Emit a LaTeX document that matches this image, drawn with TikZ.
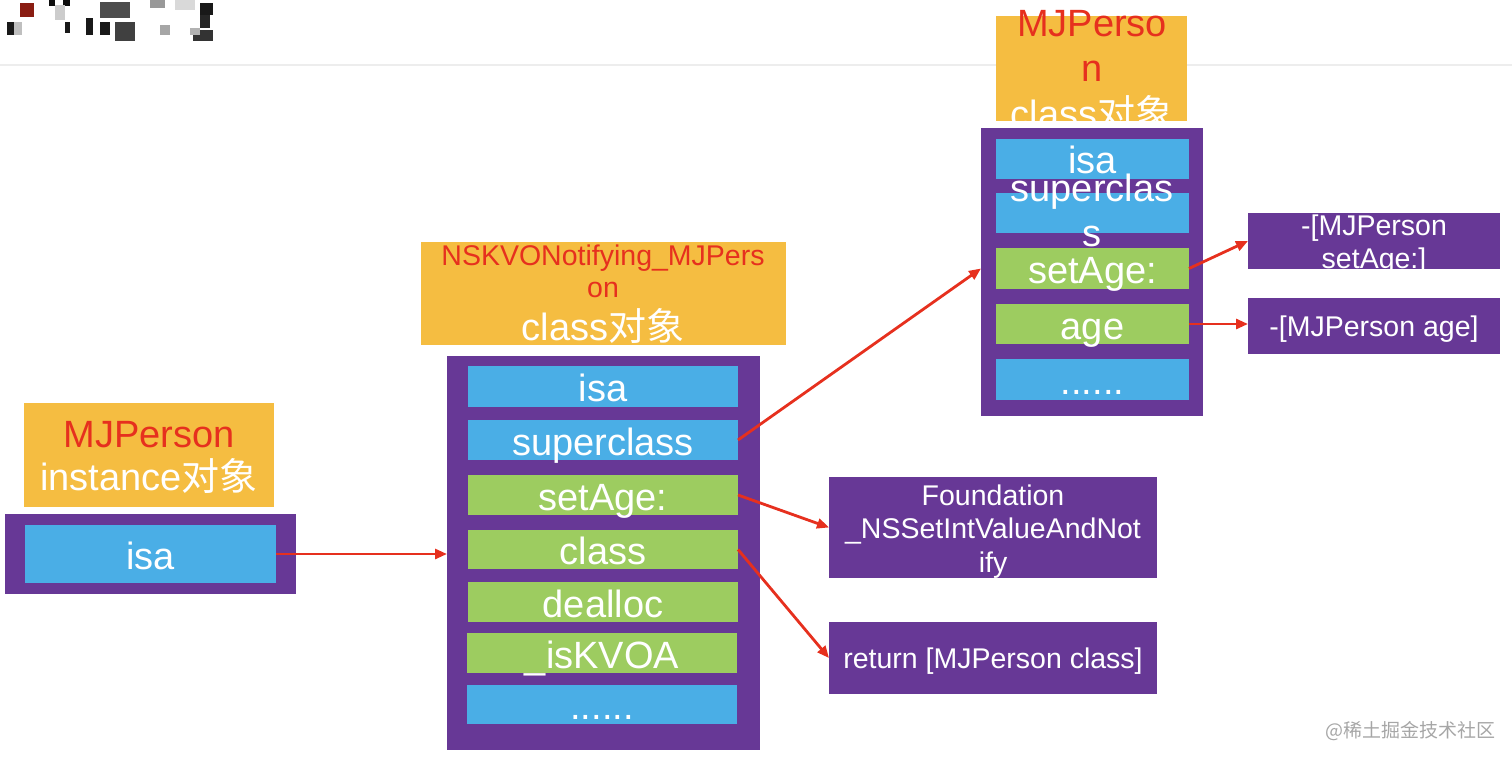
\documentclass[tikz,border=0pt]{standalone}
\usepackage{fontspec}
\setmainfont{Liberation Sans}
\newfontfamily\cjk{Noto Sans CJK SC}
\usepackage{tikz}
\usetikzlibrary{arrows.meta}
\definecolor{R}{RGB}{230, 48, 30}
\definecolor{B}{RGB}{74, 174, 230}
\definecolor{G}{RGB}{157, 204, 96}
\definecolor{O}{RGB}{245, 189, 65}
\definecolor{P}{RGB}{103, 56, 150}
\newcommand{\bigf}{\fontsize{38}{44}\selectfont}
\newcommand{\smallf}{\fontsize{28.5}{34}\selectfont}

\tikzset{
  box/.style={anchor=north west, inner sep=0pt, outer sep=0pt},
  head/.style={box, fill=O},
  frame/.style={box, fill=P},
  slot/.style={box, text=white, font=\bigf, text height=30pt, text depth=0pt},
  bslot/.style={slot, fill=B},
  gslot/.style={slot, fill=G},
  meth/.style={box, fill=P, text=white, font=\smallf, text height=20.5pt, text depth=0pt},
  txt/.style={anchor=base, inner sep=0pt, text=white},
  ptr/.style={color=R, line width=2.8pt, -{Triangle[length=12pt,width=10pt]}}
}

\begin{document}
\begin{tikzpicture}[x=1pt, y=-1pt]
  \useasboundingbox (0,0) rectangle (1512,762);
  % blurred logo and page rule
  \foreach \x/\y/\w/\h/\c in {20/3/14/14/80, 7/22/7/13/90, 14/22/8/13/25, 49/0/6/6/95,
      63/0/7/6/95, 55/5/10/15/20, 65/22/5/11/90, 86/18/7/17/90, 100/2/30/16/70,
      115/22/20/19/75, 100/22/10/13/90, 150/0/15/8/40, 160/25/10/10/35,
      200/3/13/12/90, 200/15/10/13/85, 193/30/20/11/80, 175/0/20/10/15, 190/28/10/7/30}
    \fill[black!\c] (\x,\y) rectangle ++(\w,\h);
  \fill[R!60!black] (20,3) rectangle ++(14,14);
  \draw[black!7, line width=1.5pt] (0,65) -- (1512,65);

  % MJPerson instance
  \node[head, minimum width=250pt, minimum height=104pt] (lhead) at (24,403) {};
  \node[txt, text=R, font=\bigf] (lname) at (149,447) {MJPerson};
  \node[txt, font=\bigf] (lkind) at (149,490) {instance{\cjk 对象}};
  \node[frame, minimum width=291pt, minimum height=80pt] (lobj) at (5,514) {};
  \node[bslot, minimum width=251pt, minimum height=58pt] (lisa) at (25,525) {isa};

  % NSKVONotifying_MJPerson class
  \node[head, minimum width=365pt, minimum height=103pt] (mhead) at (421,242) {};
  \node[txt, text=R, font=\smallf] (mname) at (603,265) {NSKVONotifying\_MJPers};
  \node[txt, text=R, font=\smallf] (mname2) at (603,297) {on};
  \node[txt, font=\bigf] (mkind) at (603,340) {class{\cjk 对象}};
  \node[frame, minimum width=313pt, minimum height=394pt] (mobj) at (447,356) {};
  \node[bslot, minimum width=270pt, minimum height=41pt] (misa) at (468,366) {isa};
  \node[bslot, minimum width=270pt, minimum height=40pt] (msup) at (468,420) {superclass};
  \node[gslot, minimum width=270pt, minimum height=40pt] (mset) at (468,475) {setAge:};
  \node[gslot, minimum width=270pt, minimum height=39pt] (mcls) at (468,530) {class};
  \node[gslot, minimum width=270pt, minimum height=40pt] (mdea) at (468,582) {dealloc};
  \node[gslot, minimum width=270pt, minimum height=40pt] (mkvo) at (467,633) {\_isKVOA};
  \node[bslot, minimum width=270pt, minimum height=39pt] (mdot) at (467,685) {......};

  % MJPerson class
  \node[head, minimum width=191pt, minimum height=105pt] (rhead) at (996,16) {};
  \node[txt, text=R, font=\bigf] (rname) at (1092,37) {MJPerso};
  \node[txt, text=R, font=\bigf] (rname2) at (1092,82) {n};
  \node[txt, font=\bigf] (rkind) at (1092,128) {class{\cjk 对象}};
  \node[frame, minimum width=222pt, minimum height=288pt] (robj) at (981,128) {};
  \node[bslot, minimum width=193pt, minimum height=40pt] (risa) at (996,139) {isa};
  \node[bslot, minimum width=193pt, minimum height=40pt] (rsup) at (996,193) {};
  \node[txt, font=\bigf] (rsupa) at (1092,202) {superclas};
  \node[txt, font=\bigf] (rsupb) at (1092,246) {s};
  \node[gslot, minimum width=193pt, minimum height=41pt] (rset) at (996,248) {setAge:};
  \node[gslot, minimum width=193pt, minimum height=40pt] (rage) at (996,304) {age};
  \node[bslot, minimum width=193pt, minimum height=41pt] (rdot) at (996,359) {......};

  % method implementations
  \node[meth, minimum width=252pt, minimum height=56pt] (setimp) at (1248,213) {};
  \node[txt, font=\smallf] (setimpa) at (1374,235) {-[MJPerson};
  \node[txt, font=\smallf] (setimpb) at (1374,268) {setAge:]};
  \node[meth, minimum width=252pt, minimum height=56pt] (ageimp) at (1248,298) {-[MJPerson age]};
  \node[meth, minimum width=328pt, minimum height=101pt] (kvoimp) at (829,477) {};
  \node[txt, font=\smallf] (kvoa) at (993,505) {Foundation};
  \node[txt, font=\smallf] (kvob) at (993,538) {\_NSSetIntValueAndNot};
  \node[txt, font=\smallf] (kvoc) at (993,572) {ify};
  \node[meth, minimum width=328pt, minimum height=72pt] (clsimp) at (829,622) {return [MJPerson class]};

  % pointers
  \draw[ptr] (lisa.east) -- (lisa.east -| mobj.west);
  \draw[ptr] (msup.east) -- (robj.west |- rset.east);
  \draw[ptr] (mset.east) -- (kvoimp.west);
  \draw[ptr] (mcls.east) -- (clsimp.west);
  \draw[ptr] (rset.east) -- (setimp.west);
  \draw[ptr] (rage.east) -- (rage.east -| ageimp.west);

  \node[anchor=base, inner sep=0pt, text=black!35, font=\cjk\fontsize{19}{22}\selectfont] (mark) at (1410,737) {@稀土掘金技术社区};
\end{tikzpicture}
\end{document}
